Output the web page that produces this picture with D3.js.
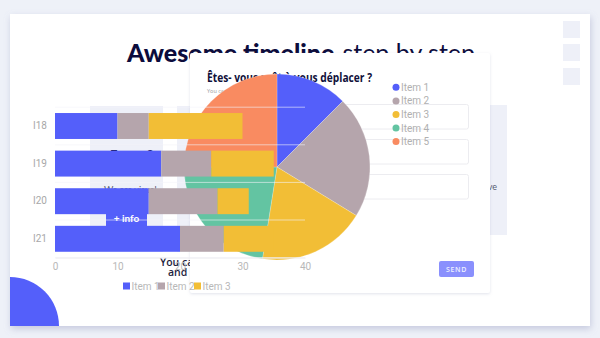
<!DOCTYPE html>
<html>
<head>
<meta charset="utf-8">
<script src="https://cdn.jsdelivr.net/npm/d3@7"></script>
<style>
  html, body { margin: 0; padding: 0; background: #eef1f8; }
  svg { display: block; }
</style>
</head>
<body>
<svg id="chart" width="600" height="338"></svg>
<script>
// ---- data ----
const barCategories = ["I18", "I19", "I20", "I21"];
const barSeriesNames = ["Item 1", "Item 2", "Item 3"];
const item1Values = [10, 17, 15, 20];
const item2Values = [5, 8, 11, 7];
const item3Values = [15, 10, 5, 8];
const xTickValues = [0, 10, 20, 30, 40];
const pieLabels = ["Item 1", "Item 2", "Item 3", "Item 4", "Item 5"];
const pieValues = [10, 17, 15, 18, 20];
const mainTitleBold = "Awesome timeline";
const mainTitleLight = "step by step";
const formTitle = "Êtes- vous prêt à vous déplacer ?";
const formSubtitle = "You can choose several answers";

const colors = {"Item 1": "#545ffa", "Item 2": "#b5a5ac", "Item 3": "#f2be36", "Item 4": "#63c4a2", "Item 5": "#f98b61"};

const svg = d3.select("#chart");
const defs = svg.append("defs");
const sh = defs.append("filter").attr("id", "shadow").attr("x", "-10%").attr("y", "-10%").attr("width", "120%").attr("height", "125%");
sh.append("feDropShadow").attr("dx", 1).attr("dy", 3).attr("stdDeviation", 3.5).attr("flood-color", "#8a90b8").attr("flood-opacity", 0.4);
const sh2 = defs.append("filter").attr("id", "shadow2").attr("x", "-10%").attr("y", "-10%").attr("width", "120%").attr("height", "125%");
sh2.append("feDropShadow").attr("dx", 0).attr("dy", 1).attr("stdDeviation", 1.5).attr("flood-color", "#9aa0c0").attr("flood-opacity", 0.3);
defs.append("clipPath").attr("id", "cardclip").append("rect").attr("x", 10).attr("y", 14).attr("width", 580).attr("height", 312);

// ---- background page ----
svg.append("rect").attr("width", 600).attr("height", 338).attr("fill", "#eef1f8");
svg.append("rect").attr("x", 10).attr("y", 14).attr("width", 580).attr("height", 312).attr("fill", "#ffffff").attr("filter", "url(#shadow)");
[21, 44, 68].forEach(y => svg.append("rect").attr("x", 563).attr("y", y).attr("width", 17).attr("height", 17).attr("fill", "#eef0f8"));

const title = svg.append("text").attr("x", 127).attr("y", 62).attr("font-family", "Lato").attr("font-size", 25).attr("fill", "#0c0c3c");
title.append("tspan").attr("font-weight", 900).text(mainTitleBold);
title.append("tspan").attr("font-weight", 400).attr("dx", 8).text(mainTitleLight);

// column patches
svg.append("rect").attr("x", 90).attr("y", 106).attr("width", 73).attr("height", 146).attr("fill", "#eef0f8");
svg.append("rect").attr("x", 177).attr("y", 106).attr("width", 14).attr("height", 146).attr("fill", "#eef0f8");
svg.append("rect").attr("x", 430).attr("y", 105).attr("width", 77).attr("height", 130).attr("fill", "#eef0f8");

svg.append("text").attr("x", 110).attr("y", 159.5).attr("font-family", "Lato").attr("font-weight", 900).attr("font-size", 13).attr("fill", "#0c0c3c").text("Etape 2");
svg.append("text").attr("x", 104).attr("y", 193).attr("font-family", "Lato").attr("font-size", 9).attr("fill", "#555a70").text("We are visual");
svg.append("rect").attr("x", 106).attr("y", 205).attr("width", 41).attr("height", 28).attr("rx", 3).attr("fill", colors["Item 1"]);
svg.append("text").attr("x", 126.5).attr("y", 222).attr("text-anchor", "middle").attr("font-family", "Lato").attr("font-weight", 700).attr("font-size", 10).attr("fill", "#ffffff").text("+ info");
svg.append("text").attr("x", 160).attr("y", 266).attr("font-family", "Open Sans").attr("font-weight", 600).attr("font-size", 10.5).attr("fill", "#1d1d40").text("You can see");
svg.append("text").attr("x", 168).attr("y", 276).attr("font-family", "Open Sans").attr("font-weight", 600).attr("font-size", 10.5).attr("fill", "#1d1d40").text("and step");
svg.append("text").attr("x", 497).attr("y", 190).attr("text-anchor", "end").attr("font-family", "Lato").attr("font-size", 9).attr("fill", "#555a70").text("we have");

// ---- form card ----
const form = svg.append("g");
form.append("rect").attr("x", 190).attr("y", 53).attr("width", 300).attr("height", 240).attr("rx", 2).attr("fill", "#ffffff").attr("filter", "url(#shadow2)");
form.append("text").attr("x", 207).attr("y", 82).attr("font-family", "Open Sans").attr("font-weight", 700).attr("font-size", 12.5)
  .attr("textLength", 165).attr("lengthAdjust", "spacingAndGlyphs").attr("fill", "#10103a").text(formTitle);
form.append("text").attr("x", 207).attr("y", 93).attr("font-family", "Open Sans").attr("font-size", 5.5).attr("fill", "#999").text(formSubtitle);
[104, 139, 174].forEach(y => form.append("rect").attr("x", 207.5).attr("y", y + 0.5).attr("width", 261).attr("height", 24.5).attr("rx", 2)
  .attr("fill", "#fff").attr("stroke", "#ececf0").attr("stroke-width", 1));
form.append("rect").attr("x", 439).attr("y", 261).attr("width", 35).attr("height", 16).attr("rx", 2).attr("fill", "#8a90fd");
form.append("text").attr("x", 456.5).attr("y", 272).attr("text-anchor", "middle").attr("font-family", "Open Sans").attr("font-weight", 600)
  .attr("font-size", 7).attr("letter-spacing", 0.6).attr("fill", "#eef0ff").text("SEND");

// ---- pie ----
const pieData = pieLabels.map((l, i) => ({label: l, value: pieValues[i]}));
const pie = d3.pie().sort(null).value(d => d.value);
const arc = d3.arc().innerRadius(0).outerRadius(93);
const pieG = svg.append("g").attr("transform", "translate(277,167)");
pieG.selectAll("path").data(pie(pieData)).join("path")
  .attr("d", arc).attr("fill", d => colors[d.data.label]).attr("stroke", "#ffffff").attr("stroke-width", 0.5).attr("stroke-opacity", 0.4);

const pieLeg = svg.append("g");
const legY = d3.scalePoint().domain(pieLabels).range([87.3, 141.6]);
pieLabels.forEach(l => {
  pieLeg.append("circle").attr("cx", 396).attr("cy", legY(l)).attr("r", 3.5).attr("fill", colors[l]);
  pieLeg.append("text").attr("x", 401).attr("y", legY(l)).attr("dy", "0.35em").attr("font-family", "Roboto").attr("font-size", 10)
    .attr("fill", "#b0b0b0").text(l);
});

// ---- stacked bar chart ----
const rows = barCategories.map((c, i) => ({cat: c, "Item 1": item1Values[i], "Item 2": item2Values[i], "Item 3": item3Values[i]}));
const stack = d3.stack().keys(barSeriesNames)(rows);
const x = d3.scaleLinear().domain([0, 40]).range([55, 305]);
const y = d3.scaleBand().domain(barCategories).range([107.2, 257.6]).paddingInner(0.31).paddingOuter(0.155);
const barG = svg.append("g");
barG.selectAll("g").data(stack).join("g").attr("fill", s => colors[s.key])
  .selectAll("rect").data(s => s).join("rect")
  .attr("x", d => x(d[0])).attr("y", d => y(d.data.cat)).attr("width", d => x(d[1]) - x(d[0])).attr("height", y.bandwidth());

// grid lines at band boundaries
const bounds = barCategories.map(c => y(c) - (y.step() - y.bandwidth()) / 2).concat([y.range()[1]]);
barG.selectAll("line.grid").data(bounds).join("line").attr("class", "grid")
  .attr("x1", x(0)).attr("x2", x(40)).attr("y1", d => d).attr("y2", d => d)
  .attr("stroke", "#f4f4f8").attr("stroke-opacity", 0.6).attr("stroke-width", 1);

const xAxis = svg.append("g").attr("transform", `translate(0,${y.range()[1]})`)
  .call(d3.axisBottom(x).tickValues(xTickValues).tickSize(0).tickPadding(5));
xAxis.select(".domain").attr("stroke", "#ececf0");
xAxis.selectAll("text").attr("font-family", "Roboto").attr("font-size", 10).attr("fill", "#b8b8b8");

const yAxis = svg.append("g").attr("transform", `translate(${x(0)},0)`)
  .call(d3.axisLeft(y).tickSize(0).tickPadding(8));
yAxis.select(".domain").remove();
yAxis.selectAll("text").attr("font-family", "Roboto").attr("font-size", 10).attr("fill", "#a8a8a8");

// bar legend
const barLeg = svg.append("g");
const legX = [123, 158, 194];
barSeriesNames.forEach((s, i) => {
  barLeg.append("rect").attr("x", legX[i]).attr("y", 282.5).attr("width", 7).attr("height", 7).attr("fill", colors[s]);
  barLeg.append("text").attr("x", legX[i] + 8.5).attr("y", 286).attr("dy", "0.35em").attr("font-family", "Roboto").attr("font-size", 10)
    .attr("fill", "#b8b8b8").text(s);
});

// decorative quarter circle (clipped to the card)
svg.append("g").attr("clip-path", "url(#cardclip)")
  .append("path")
  .attr("d", d3.arc().innerRadius(0).outerRadius(49).startAngle(0).endAngle(Math.PI / 2)())
  .attr("transform", "translate(10,326)").attr("fill", colors["Item 1"]);
</script>
</body>
</html>
